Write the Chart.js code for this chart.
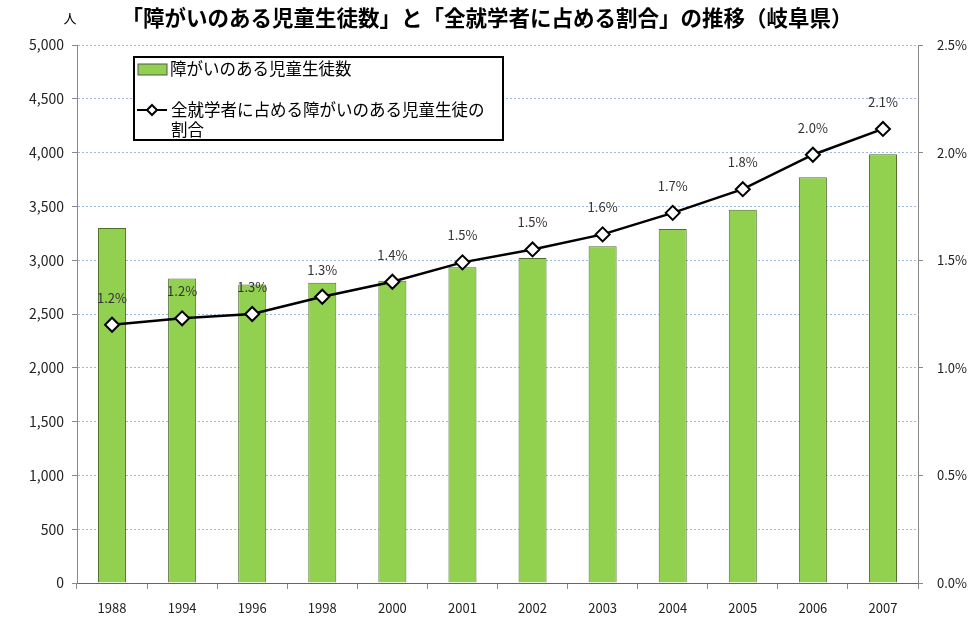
<!DOCTYPE html>
<html lang="ja">
<head>
<meta charset="utf-8">
<script src="https://cdn.jsdelivr.net/npm/chart.js@4"></script>
<style>
  html, body { margin: 0; padding: 0; background: #fff; }
  #wrap { width: 978px; height: 619px; }
</style>
</head>
<body>
<div id="wrap"><canvas id="gifuChart" width="978" height="619"></canvas></div>
<script>
// data
const years = ['1988', '1994', '1996', '1998', '2000', '2001', '2002', '2003', '2004', '2005', '2006', '2007'];
const students = [3300, 2830, 2775, 2790, 2810, 2935, 3020, 3130, 3290, 3470, 3770, 3985];
const ratio = [1.20, 1.23, 1.25, 1.33, 1.40, 1.49, 1.55, 1.62, 1.72, 1.83, 1.99, 2.11];
const ratioLabels = ['1.2%', '1.2%', '1.3%', '1.3%', '1.4%', '1.5%', '1.5%', '1.6%', '1.7%', '1.8%', '2.0%', '2.1%'];
const leftTicks = [0, 500, 1000, 1500, 2000, 2500, 3000, 3500, 4000, 4500, 5000];
const rightTicks = [0, 0.5, 1.0, 1.5, 2.0, 2.5];

const titleText = '「障がいのある児童生徒数」と「全就学者に占める割合」の推移（岐阜県）';
const barLabel = '障がいのある児童生徒数';
const lineLabel = ['全就学者に占める障がいのある児童生徒の', '割合'];

const FONT = '"Noto Sans CJK JP", "Noto Sans", sans-serif';
const GREEN = '#92d050';

// title, unit, point labels and the boxed legend
const decorations = {
    id: 'decorations',
    afterDatasetsDraw(chart) {
        const ctx = chart.ctx;
        ctx.save();

        // unit + title
        ctx.fillStyle = '#000';
        ctx.textBaseline = 'middle';
        ctx.font = '13px ' + FONT;
        ctx.textAlign = 'center';
        ctx.fillText('人', 70, 18);
        ctx.font = 'bold 21.5px ' + FONT;
        ctx.fillText(titleText, 487, 18);

        // percentage labels above the line points
        const meta = chart.getDatasetMeta(1);
        ctx.font = '13px ' + FONT;
        ctx.fillStyle = '#333';
        meta.data.forEach((pt, i) => {
            ctx.fillText(ratioLabels[i], pt.x, pt.y - 27);
        });

        // legend box
        const lx = 134, ly = 57, lw = 369, lh = 83;
        ctx.fillStyle = '#fff';
        ctx.fillRect(lx, ly, lw, lh);
        ctx.lineWidth = 2;
        ctx.strokeStyle = '#000';
        ctx.strokeRect(lx, ly, lw, lh);

        ctx.fillStyle = GREEN;
        ctx.fillRect(lx + 4, ly + 7, 29, 11);
        ctx.lineWidth = 1;
        ctx.strokeStyle = '#555';
        ctx.strokeRect(lx + 4, ly + 7, 29, 11);

        ctx.font = '16.5px ' + FONT;
        ctx.fillStyle = '#000';
        ctx.textAlign = 'left';
        ctx.fillText(chart.data.datasets[0].label, lx + 36, ly + 12);

        ctx.lineWidth = 2;
        ctx.strokeStyle = '#000';
        ctx.beginPath();
        ctx.moveTo(lx + 3, ly + 53);
        ctx.lineTo(lx + 33, ly + 53);
        ctx.stroke();
        const dx = lx + 18, dy = ly + 53, r = 5;
        ctx.beginPath();
        ctx.moveTo(dx, dy - r);
        ctx.lineTo(dx + r, dy);
        ctx.lineTo(dx, dy + r);
        ctx.lineTo(dx - r, dy);
        ctx.closePath();
        ctx.fillStyle = '#fff';
        ctx.fill();
        ctx.stroke();

        ctx.fillStyle = '#000';
        ctx.fillText(lineLabel[0], lx + 37, ly + 53);
        ctx.fillText(lineLabel[1], lx + 37, ly + 73);

        ctx.restore();
    }
};

const ctx = document.getElementById('gifuChart').getContext('2d');
new Chart(ctx, {
    data: {
        labels: years,
        datasets: [{
            type: 'bar',
            label: barLabel,
            data: students,
            yAxisID: 'yLeft',
            backgroundColor: GREEN,
            borderColor: '#4f6e2c',
            borderWidth: 1,
            categoryPercentage: 0.8,
            barPercentage: 0.5,
            order: 1
        }, {
            type: 'line',
            label: lineLabel.join(''),
            data: ratio,
            yAxisID: 'yRight',
            borderColor: '#000',
            borderWidth: 2.5,
            tension: 0,
            pointStyle: 'rectRot',
            pointRadius: 7,
            pointBackgroundColor: '#fff',
            pointBorderColor: '#000',
            pointBorderWidth: 2,
            order: 0
        }]
    },
    options: {
        responsive: false,
        animation: false,
        layout: { padding: { top: 45, left: 0, right: 0, bottom: 0 } },
        plugins: {
            legend: { display: false },
            tooltip: { enabled: false }
        },
        scales: {
            x: {
                offset: true,
                grid: {
                    offset: true,
                    drawOnChartArea: false,
                    tickLength: 6,
                    color: '#888'
                },
                border: { color: '#666', width: 1 },
                ticks: {
                    color: '#222',
                    font: { family: FONT, size: 13 },
                    padding: 11,
                    maxRotation: 0
                },
                afterFit(scale) { scale.height = 36; }
            },
            yLeft: {
                position: 'left',
                min: 0,
                max: 5000,
                afterBuildTicks(scale) { scale.ticks = leftTicks.map(v => ({ value: v })); },
                grid: {
                    color: '#9db9e0',
                    tickColor: '#888',
                    tickLength: 5
                },
                border: { color: '#888', dash: [2, 2] },
                ticks: {
                    color: '#222',
                    font: { family: FONT, size: 14 },
                    padding: 8,
                    callback: v => v.toLocaleString('en-US')
                },
                afterFit(scale) { scale.width = 77; }
            },
            yRight: {
                position: 'right',
                min: 0,
                max: 2.5,
                afterBuildTicks(scale) { scale.ticks = rightTicks.map(v => ({ value: v })); },
                grid: {
                    drawOnChartArea: false,
                    tickColor: '#888',
                    tickLength: 5
                },
                border: { color: '#888' },
                ticks: {
                    color: '#222',
                    font: { family: FONT, size: 13 },
                    padding: 14,
                    callback: v => v.toFixed(1) + '%'
                },
                afterFit(scale) { scale.width = 60; }
            }
        }
    },
    plugins: [decorations]
});
</script>
</body>
</html>
